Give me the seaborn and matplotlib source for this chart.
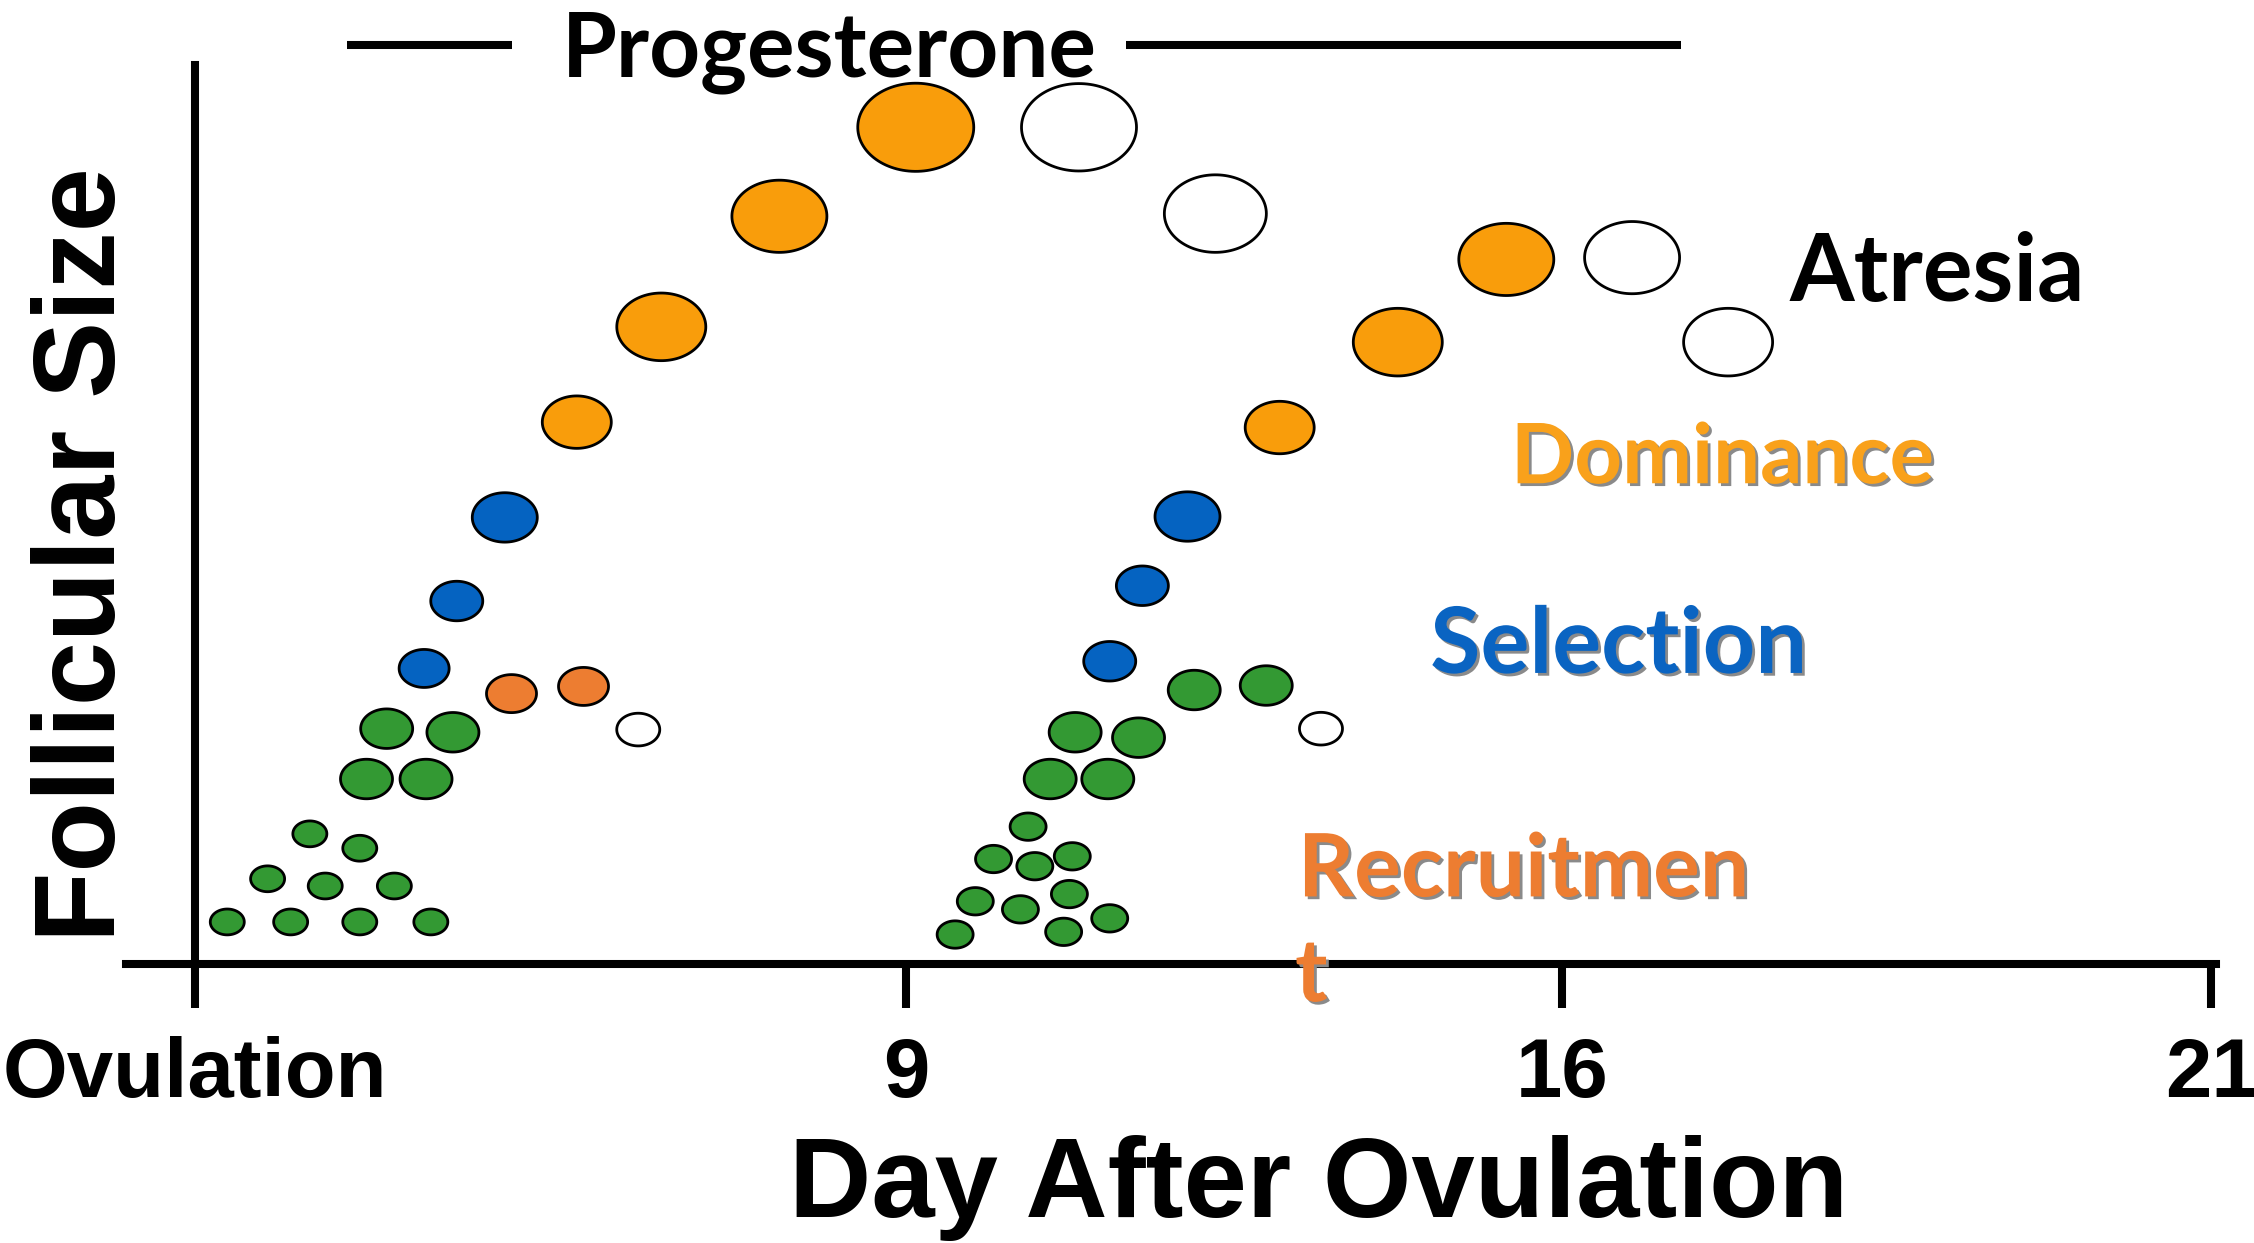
import numpy as np
import pandas as pd
import seaborn as sns
import matplotlib.pyplot as plt
from matplotlib.path import Path
import matplotlib.patheffects as pe

DPI = 100

# follicles read off the schematic
# x: position on the timeline, y: follicular size (0-100), w: follicle width (px)
wave1_x = [0.34, 1.00, 1.72, 2.46, 0.76, 1.36, 2.08, 1.20, 1.72, 1.79, 2.41, 2.00, 2.69,
           2.39, 2.73, 3.23, 3.98, 4.86, 6.09, 7.51, 9.21, 10.63, 3.30, 4.05, 4.62]
wave1_y = [4.7, 4.7, 4.7, 4.7, 9.5, 8.7, 8.7, 14.5, 12.9, 20.6, 20.6, 26.2, 25.8,
           32.9, 40.4, 49.7, 60.3, 70.9, 83.2, 93.1, 93.1, 83.5, 30.1, 30.9, 26.1]
wave1_w = [34, 34, 34, 34, 34, 34, 34, 34, 34, 52, 52, 52, 52,
           50, 52, 65, 69, 89, 95, 116, 115, 102, 50, 50, 43]
wave1_stage = ['recruited'] * 13 + ['selected'] * 3 + ['dominant'] * 4 + ['atretic'] * 2 \
    + ['subordinate'] * 2 + ['atretic']

wave2_x = [8.68, 8.32, 8.75, 9.14, 8.13, 8.60, 9.11, 7.92, 9.05, 9.53, 8.91, 9.51, 9.17,
           9.83, 10.41, 11.16, 9.53, 9.87, 10.34, 11.30, 12.53, 13.66, 14.97, 15.97, 11.73]
wave2_y = [15.3, 11.7, 10.9, 12.0, 7.0, 6.1, 7.8, 3.3, 3.6, 5.1, 20.6, 20.6, 25.8,
           25.2, 30.5, 31.0, 33.7, 42.1, 49.8, 59.7, 69.2, 78.4, 78.6, 69.2, 26.2]
wave2_w = [36, 36, 36, 36, 36, 36, 36, 36, 36, 36, 52, 52, 52,
           52, 52, 52, 52, 52, 65, 69, 89, 95, 95, 89, 43]
wave2_stage = ['recruited'] * 16 + ['selected'] * 3 + ['dominant'] * 3 + ['atretic'] * 3

stage_colors = {'recruited': '#339933', 'selected': '#0563C1', 'dominant': '#F99D0B',
                'subordinate': '#ED7D31', 'atretic': 'white'}

tick_pos = [0, 7.41, 14.24, 21]
tick_labels = ['Ovulation', '9', '16', '21']

df = pd.DataFrame({
    'x': wave1_x + wave2_x,
    'y': wave1_y + wave2_y,
    'w': wave1_w + wave2_w,
    'stage': wave1_stage + wave2_stage,
})

sns.set_theme(style='ticks')
plt.rcParams['font.family'] = ['Liberation Sans', 'DejaVu Sans']
plt.rcParams['text.color'] = 'black'
plt.rcParams['axes.labelcolor'] = 'black'
plt.rcParams['xtick.color'] = 'black'
plt.rcParams['xtick.bottom'] = True
plt.rcParams['xtick.major.size'] = 32
plt.rcParams['xtick.major.width'] = 5.8

# follicles are slightly flattened ellipses
t = np.linspace(0, 2 * np.pi, 120)
ellipse = Path(np.column_stack([np.cos(t), 0.76 * np.sin(t)]), closed=True)
size_map = {w: (w * 72 / DPI) ** 2 for w in df['w'].unique()}

fig = plt.figure(figsize=(22.54, 12.43), dpi=DPI)
ax = fig.add_axes([0.0561, 0.2243, 0.9270, 0.7232])

sns.scatterplot(data=df, x='x', y='y', hue='stage', palette=stage_colors,
                size='w', sizes=size_map, marker=ellipse, edgecolor='black',
                linewidth=2, legend=False, ax=ax, zorder=3, clip_on=False)

ax.set_xlim(-0.71, 21.05)
ax.set_ylim(0, 100)
for s in ['top', 'right']:
    ax.spines[s].set_visible(False)
ax.spines['left'].set_position(('data', 0))
for s in ['left', 'bottom']:
    ax.spines[s].set_linewidth(5.8)
    ax.spines[s].set_color('black')

ax.set_yticks([])
ax.set_xticks(tick_pos, tick_labels, fontsize=60, fontweight='bold',
              family=['Liberation Sans', 'DejaVu Sans'])
ax.tick_params(axis='x', bottom=True, length=32, width=5.8, color='black',
               labelcolor='black', pad=20, direction='out')
for tk in ax.xaxis.get_major_ticks():
    tk.tick1line.set_visible(True)
    tk.tick1line.set_markersize(32)
    tk.tick1line.set_markeredgewidth(5.8)
    tk.tick1line.set_markeredgecolor('black')

ax.set_xlabel('Day After Ovulation', fontsize=82, fontweight='bold', va='baseline', color='black')
ax.xaxis.set_label_coords(0.5707, -0.2816)
ax.set_ylabel('Follicular Size', fontsize=83, fontweight='bold', va='baseline', color='black')
ax.yaxis.set_label_coords(-0.0055, 0.456)

# progesterone bar above the plot
ax.plot([1.59, 3.30], [102.2, 102.2], color='black', lw=5.8, clip_on=False, solid_capstyle='butt')
ax.plot([9.70, 15.48], [102.2, 102.2], color='black', lw=5.8, clip_on=False, solid_capstyle='butt')

hand = ['Lato', 'DejaVu Sans']
ax.text(6.605, 98.75, 'Progesterone', fontsize=64, fontweight='bold', family=hand,
        ha='center', va='baseline', color='black')
ax.text(18.15, 73.8, 'Atresia', fontsize=67, fontweight='bold', family=hand,
        ha='center', va='baseline', color='black')

shadow = [pe.withSimplePatchShadow(offset=(2, -2), shadow_rgbFace='#8a8a8a', alpha=1)]
ax.text(15.91, 53.5, 'Dominance', fontsize=60, fontweight='bold', family=hand,
        ha='center', va='baseline', color='#F9A11B', path_effects=shadow)
ax.text(14.83, 32.4, 'Selection', fontsize=66, fontweight='bold', family=hand,
        ha='center', va='baseline', color='#0A64C2', path_effects=shadow)
ax.text(11.49, 7.54, 'Recruitmen', fontsize=63, fontweight='bold', family=hand,
        ha='left', va='baseline', color='#ED7D31', path_effects=shadow, zorder=4)
ax.text(11.46, -4.12, 't', fontsize=63, fontweight='bold', family=hand,
        ha='left', va='baseline', color='#ED7D31', path_effects=shadow, zorder=4, clip_on=False)

plt.savefig('out.png', dpi=DPI)
